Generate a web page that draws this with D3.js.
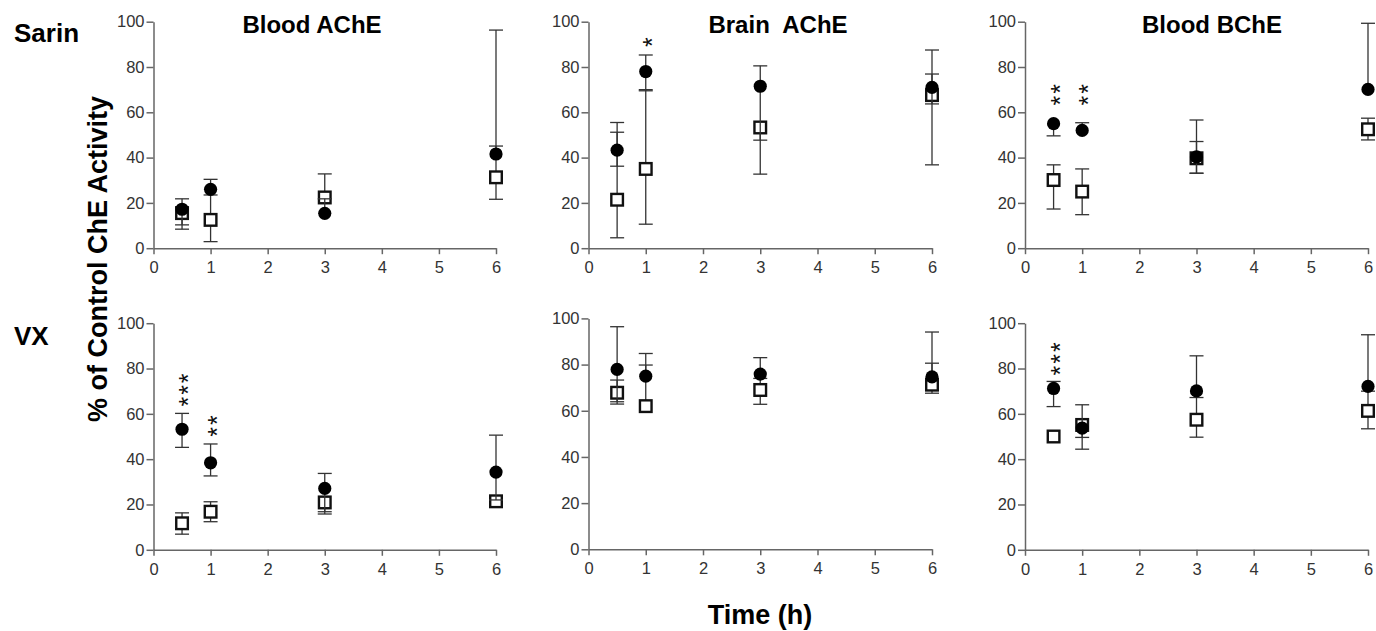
<!DOCTYPE html>
<html>
<head>
<meta charset="utf-8">
<script src="https://cdn.jsdelivr.net/npm/d3@7"></script>
<style>
  body { margin: 0; background: #fff; }
  svg { font-family: "Liberation Sans", Arial, sans-serif; }
</style>
</head>
<body>
<div id="chart"></div>
<script>
// data
const times = [0.5, 1, 3, 6];
const xTicks = [0, 1, 2, 3, 4, 5, 6];
const yTicks = [0, 20, 40, 60, 80, 100];
const agents = ["Sarin", "VX"];
const enzymes = ["Blood AChE", "Brain  AChE", "Blood BChE"];

// one row per panel: Sarin (Blood AChE, Brain AChE, Blood BChE), then VX (same order)
const circleMean = [
  [17.2, 26.0, 15.4, 41.6],
  [43.3, 78.0, 71.5, 71.0],
  [55.0, 52.0, 40.3, 70.1],
  [53.2, 38.4, 27.1, 34.3],
  [77.9, 75.0, 75.9, 74.7],
  [71.2, 53.7, 70.1, 72.1]
];
const circleLow = [
  [10.3, 26.0, 15.4, 41.6],
  [36.2, 69.5, 32.7, 63.7],
  [49.6, 52.0, 33.1, 70.1],
  [45.2, 32.6, 16.8, 22.0],
  [63.9, 75.0, 75.9, 74.7],
  [63.2, 44.4, 70.1, 72.1]
];
const circleHigh = [
  [21.8, 30.4, 21.8, 45.1],
  [51.2, 85.3, 80.5, 76.9],
  [55.0, 55.4, 47.1, 99.3],
  [60.2, 46.7, 33.7, 50.6],
  [96.4, 84.8, 83.0, 80.6],
  [74.3, 64.0, 85.6, 94.9]
];
const squareMean = [
  [15.5, 12.5, 22.4, 31.3],
  [21.4, 35.0, 53.3, 67.6],
  [30.1, 25.0, 39.7, 52.5],
  [11.7, 16.8, 20.9, 21.4],
  [67.8, 62.0, 69.0, 71.3],
  [50.0, 55.1, 57.4, 61.3]
];
const squareLow = [
  [8.4, 2.9, 22.4, 21.6],
  [4.6, 10.6, 47.7, 36.8],
  [17.3, 14.8, 33.1, 47.8],
  [6.9, 12.4, 15.8, 21.4],
  [62.9, 62.0, 62.8, 67.6],
  [50.0, 49.6, 49.7, 53.4]
];
const squareHigh = [
  [15.5, 23.5, 32.8, 96.3],
  [55.5, 70.0, 53.3, 87.5],
  [36.8, 35.0, 56.6, 57.4],
  [16.3, 21.2, 20.9, 21.4],
  [73.3, 79.8, 74.0, 94.1],
  [50.0, 55.1, 67.2, 70.0]
];
// significance marks: [panel, time, number of asterisks, value of the lowest one]
const stars = [
  [1, 1, 1, 91.0],
  [2, 0.5, 2, 65.2],
  [2, 1, 2, 65.2],
  [3, 0.5, 3, 65.4],
  [3, 1, 2, 52.1],
  [5, 0.5, 3, 79.1]
];

// layout
const width = 1376, height = 631;
const colX = [[153.5, 496], [588.5, 932], [1025, 1368]];
const rowY = [[248.2, 21.7], [549.8, 323.2]];
const titleX = [312, 778, 1212];
const capHalf = 7;
const starSize = 25;

const svg = d3.select("#chart")
  .append("svg")
    .attr("width", width)
    .attr("height", height);

function errorBars(g, x, y, mean, low, high) {
  const bars = g.append("g")
    .attr("stroke", "#333")
    .attr("stroke-width", 1.3)
    .attr("fill", "none");
  times.forEach((t, j) => {
    const cx = x(t);
    if (low[j] < mean[j] || high[j] > mean[j]) {
      bars.append("line")
        .attr("x1", cx).attr("x2", cx)
        .attr("y1", y(low[j])).attr("y2", y(high[j]));
    }
    if (low[j] < mean[j]) {
      bars.append("line")
        .attr("x1", cx - capHalf).attr("x2", cx + capHalf)
        .attr("y1", y(low[j])).attr("y2", y(low[j]));
    }
    if (high[j] > mean[j]) {
      bars.append("line")
        .attr("x1", cx - capHalf).attr("x2", cx + capHalf)
        .attr("y1", y(high[j])).attr("y2", y(high[j]));
    }
  });
}

d3.range(6).forEach(i => {
  const c = i % 3, r = Math.floor(i / 3);
  const yRange = i === 4 ? [549.3, 318.4] : rowY[r];
  const x = d3.scaleLinear().domain([0, 6]).range(colX[c]);
  const y = d3.scaleLinear().domain([0, 100]).range(yRange);
  const g = svg.append("g");

  // axes
  const ax = g.append("g")
    .attr("transform", `translate(0,${y(0)})`)
    .call(d3.axisBottom(x).tickValues(xTicks).tickFormat(d3.format("d"))
      .tickSize(6).tickPadding(7).tickSizeOuter(0));
  const ay = g.append("g")
    .attr("transform", `translate(${x(0)},0)`)
    .call(d3.axisLeft(y).tickValues(yTicks).tickFormat(d3.format("d"))
      .tickSize(7).tickPadding(2).tickSizeOuter(0));
  [ax, ay].forEach(a => {
    a.select(".domain").attr("stroke", "#666").attr("stroke-width", 1.5);
    a.selectAll(".tick line").attr("stroke", "#666").attr("stroke-width", 1.5);
    a.selectAll(".tick text").attr("fill", "#333").style("font-size", "16.5px");
  });

  // open squares with their bars underneath
  errorBars(g, x, y, squareMean[i], squareLow[i], squareHigh[i]);
  g.append("g").selectAll("rect")
    .data(times)
    .enter()
    .append("rect")
      .attr("x", d => x(d) - 5.8)
      .attr("y", (d, j) => y(squareMean[i][j]) - 5.8)
      .attr("width", 11.6)
      .attr("height", 11.6)
      .attr("fill", "#fff")
      .attr("stroke", "#111")
      .attr("stroke-width", 2.4);

  // filled circles on top
  errorBars(g, x, y, circleMean[i], circleLow[i], circleHigh[i]);
  g.append("g").selectAll("circle")
    .data(times)
    .enter()
    .append("circle")
      .attr("cx", d => x(d))
      .attr("cy", (d, j) => y(circleMean[i][j]))
      .attr("r", 6.6)
      .attr("fill", "#000");

  // asterisks, written upward as one rotated string
  stars.filter(s => s[0] === i).forEach(s => {
    g.append("text")
      .attr("transform", `translate(${x(s[1])},${y(s[3]) + 5}) rotate(-90)`)
      .attr("dy", "0.6em")
      .attr("fill", "#111")
      .style("font-size", starSize + "px")
      .style("letter-spacing", "2px")
      .text("*".repeat(s[2]));
  });

  // panel title (top row only)
  if (r === 0) {
    g.append("text")
      .attr("x", titleX[c])
      .attr("y", 33)
      .attr("text-anchor", "middle")
      .style("font-size", "24px")
      .style("font-weight", "bold")
      .style("white-space", "pre")
      .text(enzymes[c]);
  }
});

// row labels
svg.selectAll(".agent")
  .data(agents)
  .enter()
  .append("text")
    .attr("class", "agent")
    .attr("x", 14)
    .attr("y", (d, k) => k === 0 ? 42 : 345)
    .style("font-size", "26px")
    .style("font-weight", "bold")
    .text(d => d);

// axis titles
svg.append("text")
  .attr("transform", "translate(107,259) rotate(-90)")
  .attr("text-anchor", "middle")
  .style("font-size", "27px")
  .style("font-weight", "bold")
  .text("% of Control ChE Activity");

svg.append("text")
  .attr("x", 760)
  .attr("y", 624)
  .attr("text-anchor", "middle")
  .style("font-size", "27px")
  .style("font-weight", "bold")
  .text("Time (h)");
</script>
</body>
</html>
